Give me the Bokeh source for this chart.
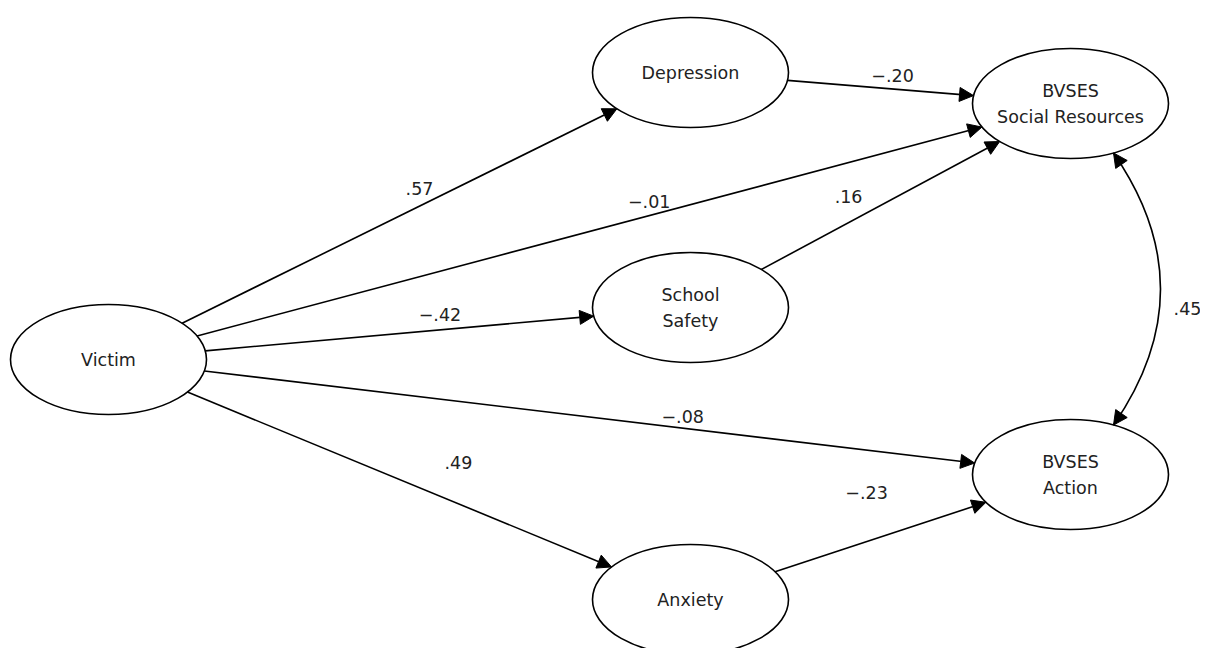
import math
from bokeh.plotting import figure
from bokeh.models import Range1d, Arrow, NormalHead
from bokeh.core.properties import value
from bokeh.embed import file_html
from bokeh.resources import INLINE

# ---------------- data ----------------
node_ids = ["victim", "depression", "safety", "anxiety", "social", "action"]
node_labels = ["Victim", "Depression", "School\nSafety", "Anxiety",
               "BVSES\nSocial Resources", "BVSES\nAction"]

edge_from = ["victim", "victim", "victim", "victim", "victim",
             "depression", "safety", "anxiety"]
edge_to = ["depression", "social", "safety", "action", "anxiety",
           "social", "social", "action"]
edge_coef = [0.57, -0.01, -0.42, -0.08, 0.49, -0.20, 0.16, -0.23]

corr_pair = ["social", "action"]
corr_coef = [0.45]

# ---------------- layout (pixel space of the drawing) ----------------
node_cx = [108, 690, 690, 690, 1070, 1070]
node_cy = [359, 72, 307, 599, 103, 474]
RX, RY = 98, 55
# label position along each edge: fraction along the line, offset above it
label_frac = [0.546, 0.576, 0.604, 0.621, 0.639, 0.565, 0.366, 0.434]
label_off = [18, 14, 15, 12, 41, 13, 26, 49]
corr_dx = 43          # horizontal offset of the curve ends from the node centres
corr_bulge = 94
corr_label_dx, corr_label_dy = 27, 19

FONT = "DejaVu Sans"
FS = "17.5px"
TXT = "#222222"
LW = 1.6

W, H = 1200, 648


def fmt(v):
    s = f"{abs(v):.2f}"[1:]
    return ("\u2212" if v < 0 else "") + s


pos = {k: (x, y) for k, x, y in zip(node_ids, node_cx, node_cy)}


def boundary(c, d):
    s = 1.0 / math.sqrt((d[0] / RX) ** 2 + (d[1] / RY) ** 2)
    return (c[0] + s * d[0], c[1] + s * d[1])


def head():
    return NormalHead(size=14, fill_color="black", line_color="black", line_width=1)


p = figure(width=W, height=H, x_range=Range1d(0, W), y_range=Range1d(H, 0),
           min_border=0, toolbar_location=None, output_backend="svg",
           x_axis_type=None, y_axis_type=None)
p.xgrid.visible = False
p.ygrid.visible = False
p.outline_line_color = None
p.background_fill_color = "white"
p.border_fill_color = "white"

# ellipses
p.ellipse(x=node_cx, y=node_cy, width=2 * RX, height=2 * RY,
          fill_color="white", line_color="black", line_width=LW)
p.text(x=node_cx, y=node_cy, text=node_labels, text_align="center",
       text_baseline="middle", text_font=value(FONT), text_font_size=FS,
       text_color=TXT, text_line_height=1.3)

# directed paths
lx, ly, lt = [], [], []
for a, b, c, f, off in zip(edge_from, edge_to, edge_coef, label_frac, label_off):
    ca, cb = pos[a], pos[b]
    d = (cb[0] - ca[0], cb[1] - ca[1])
    s0 = boundary(ca, d)
    s1 = boundary(cb, (-d[0], -d[1]))
    p.add_layout(Arrow(end=head(), x_start=s0[0], y_start=s0[1], x_end=s1[0], y_end=s1[1],
                       line_color="black", line_width=LW))
    lx.append(s0[0] + f * (s1[0] - s0[0]))
    ly.append(s0[1] + f * (s1[1] - s0[1]) - off)
    lt.append(fmt(c))

# correlation (curved, double-headed)
ca, cb = pos[corr_pair[0]], pos[corr_pair[1]]
hy = RY * math.sqrt(1 - (corr_dx / RX) ** 2)
ta = (ca[0] + corr_dx, ca[1] + hy)
tb = (cb[0] + corr_dx, cb[1] - hy)
ctrl = ((ta[0] + tb[0]) / 2 + corr_bulge, (ta[1] + tb[1]) / 2)
p.quadratic(x0=[ta[0]], y0=[ta[1]], x1=[tb[0]], y1=[tb[1]], cx=[ctrl[0]], cy=[ctrl[1]],
            line_color="black", line_width=LW)
for tip in (ta, tb):
    ux, uy = ctrl[0] - tip[0], ctrl[1] - tip[1]
    n = math.hypot(ux, uy)
    st = (tip[0] + 6 * ux / n, tip[1] + 6 * uy / n)
    p.add_layout(Arrow(end=head(), x_start=st[0], y_start=st[1], x_end=tip[0], y_end=tip[1],
                       line_color="black", line_width=LW))
mid = (0.25 * ta[0] + 0.5 * ctrl[0] + 0.25 * tb[0], 0.25 * ta[1] + 0.5 * ctrl[1] + 0.25 * tb[1])
lx.append(mid[0] + corr_label_dx)
ly.append(mid[1] + corr_label_dy)
lt.append(fmt(corr_coef[0]))

p.text(x=lx, y=ly, text=lt, text_align="center", text_baseline="middle",
       text_font=value(FONT), text_font_size=FS, text_color=TXT)

open("out.html", "w").write(file_html(p, INLINE))
